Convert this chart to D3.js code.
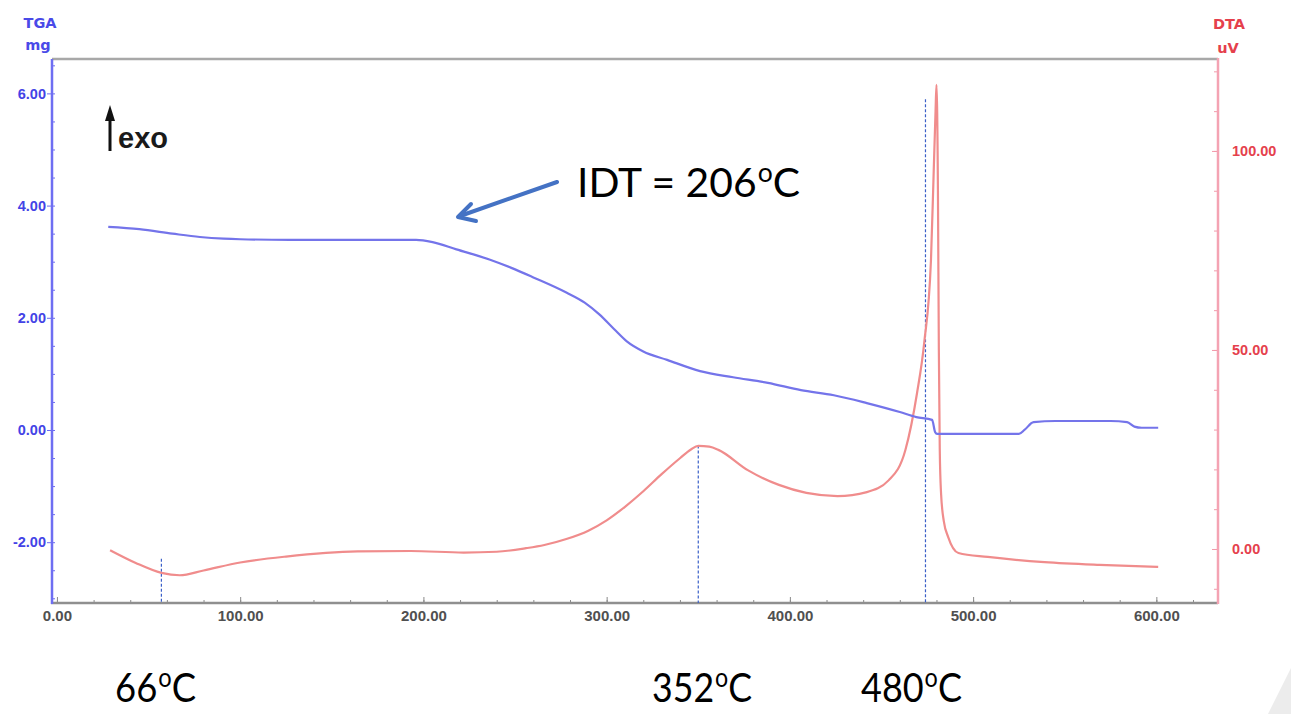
<!DOCTYPE html>
<html><head><meta charset="utf-8">
<script src="https://cdn.jsdelivr.net/npm/d3@7"></script>
<style>html,body{margin:0;padding:0;background:#fff;overflow:hidden}</style>
</head><body>
<script>
// ---- data ----
const tgaTemp = [28,45,63,78,91,100,127,196,205,218,236,248,260,278,288,296,304,311,320,333,351,369,388,406,424,442,460,469,477.6,479.3,480.3,487,525,528,533,545,575,584,588,592,601];
const tgaMass = [3.62,3.58,3.50,3.44,3.41,3.40,3.39,3.39,3.35,3.22,3.04,2.89,2.72,2.45,2.27,2.06,1.80,1.58,1.40,1.25,1.05,0.94,0.84,0.71,0.62,0.48,0.32,0.23,0.18,-0.04,-0.07,-0.07,-0.07,0.0,0.14,0.16,0.16,0.14,0.06,0.04,0.04];
const dtaTemp = [29,43,57,67,80,100,125,164,193,222,240,256,266,278,290,300,310,320,330,340,346,350,356,361,377,394,409,426,442,454,463,469.4,473.3,477,478.5,479.5,480,480.8,481.3,481.8,482.5,484,486.4,492,508,539,569,601];
const dtaSignal = [-0.3,-3.5,-6.0,-6.6,-5.4,-3.4,-1.9,-0.6,-0.5,-0.9,-0.7,0.2,1.0,2.5,4.6,7.2,10.6,14.5,18.8,22.8,25.0,25.9,25.7,24.9,19.8,16.1,14.1,13.3,14.3,17.3,24.8,39.2,51.8,72.6,95,110,116.6,90,50,25,14,7,3,-1.0,-2.0,-3.3,-4.0,-4.5];
const xTicks = [0,100,200,300,400,500,600];
const tgaTicks = [-2,0,2,4,6];
const dtaTicks = [0,50,100];
const markTemps = [57,350,474];          // dashed marker positions
const markTops = [-2.45, 26, 113];       // DTA value where each dashed line starts
const markLabels = ["66","352","480"];
const idtLabel = "IDT = 206";

// ---- layout ----
const W = 1291, H = 714;
const svg = d3.select("body").append("svg").attr("width",W).attr("height",H)
  .style("font-family","'DejaVu Sans', sans-serif");
svg.append("rect").attr("width",W).attr("height",H).attr("fill","#fff");

const x = d3.scaleLinear().domain([-2.7,633.1]).range([52,1217]);
const yL = d3.scaleLinear().domain([-3.084,6.613]).range([603,59]);
const yR = d3.scaleLinear().domain([-13.57,123.1]).range([603,59]);

// top border
svg.append("line").attr("x1",52).attr("x2",1218).attr("y1",59).attr("y2",59)
  .attr("stroke","#a8a8a8").attr("stroke-width",2.5);

// ---- axes ----
const fmt = d => d.toFixed(2);
function styleAxis(g, col){ g.select(".domain").remove(); g.selectAll("line").attr("stroke",col); }

// bottom axis
const gx = svg.append("g").attr("transform","translate(0,603)");
gx.append("g").call(d3.axisBottom(x).tickValues(d3.range(0,621,20)).tickSize(-3).tickFormat(""))
  .call(g=>styleAxis(g,"#8a8a8a"));
gx.append("g").call(d3.axisBottom(x).tickValues(xTicks).tickSize(-6).tickPadding(4).tickFormat(fmt))
  .call(g=>styleAxis(g,"#8a8a8a"))
  .call(g=>g.selectAll("text").attr("fill","#505050").attr("font-size",15).attr("font-weight","bold").attr("dy","0.9em"));
svg.append("line").attr("x1",51).attr("x2",1218).attr("y1",603).attr("y2",603).attr("stroke","#8f8f8f").attr("stroke-width",2.5);

// left axis
const gl = svg.append("g").attr("transform","translate(52,0)");
gl.append("g").call(d3.axisLeft(yL).tickValues(d3.range(-3,6.6,0.5)).tickSize(-3).tickFormat(""))
  .call(g=>styleAxis(g,"#6b6bf0"));
gl.append("g").call(d3.axisLeft(yL).tickValues(tgaTicks).tickSize(5).tickPadding(1).tickFormat(fmt))
  .call(g=>styleAxis(g,"#6b6bf0"))
  .call(g=>g.selectAll("text").attr("fill","#4343e6").attr("font-size",14.5).attr("font-weight","bold"));
svg.append("line").attr("x1",52).attr("x2",52).attr("y1",59).attr("y2",604).attr("stroke","#6e6ef2").attr("stroke-width",2.5);

// right axis
const gr = svg.append("g").attr("transform","translate(1218,0)");
gr.append("g").call(d3.axisRight(yR).tickValues(d3.range(-10,121,10)).tickSize(-4).tickFormat(""))
  .call(g=>styleAxis(g,"#f29aaa"));
gr.append("g").call(d3.axisRight(yR).tickValues(dtaTicks).tickSize(-6).tickPadding(14).tickFormat(fmt))
  .call(g=>styleAxis(g,"#f29aaa"))
  .call(g=>g.selectAll("text").attr("fill","#e5404c").attr("font-size",14.5).attr("font-weight","bold"));
svg.append("line").attr("x1",1218).attr("x2",1218).attr("y1",58).attr("y2",604).attr("stroke","#f4a3b3").attr("stroke-width",2.5);

// axis titles
const titles = [["TGA",40,28,"#4a4ae8"],["mg",38,50,"#4a4ae8"],["DTA",1229,29,"#e5404c"],["uV",1228,53,"#e5404c"]];
svg.selectAll("text.ttl").data(titles).join("text").attr("class","ttl")
  .attr("x",d=>d[1]).attr("y",d=>d[2]).attr("fill",d=>d[3]).attr("text-anchor","middle")
  .attr("font-size",14.5).attr("font-weight","bold").text(d=>d[0]);

// ---- dashed markers ----
svg.selectAll("line.mark").data(markTemps).join("line").attr("class","mark")
  .attr("x1",d=>x(d)).attr("x2",d=>x(d))
  .attr("y1",(d,i)=>yR(markTops[i])).attr("y2",603)
  .attr("stroke","#3a5fc8").attr("stroke-width",1.2).attr("stroke-dasharray","3,2");

// ---- curves ----
const tga = tgaTemp.map((t,i)=>[t,tgaMass[i]]);
const dta = dtaTemp.map((t,i)=>[t,dtaSignal[i]]);
svg.append("path").datum(dta).attr("fill","none").attr("stroke","#f08c8c").attr("stroke-width",2.2)
  .attr("stroke-linejoin","round")
  .attr("d",d3.line().x(d=>x(d[0])).y(d=>yR(d[1])).curve(d3.curveMonotoneX));
svg.append("path").datum(tga).attr("fill","none").attr("stroke","#7474ea").attr("stroke-width",2.2)
  .attr("stroke-linejoin","round")
  .attr("d",d3.line().x(d=>x(d[0])).y(d=>yL(d[1])).curve(d3.curveMonotoneX));

// ---- exo arrow ----
svg.append("line").attr("x1",110).attr("x2",110).attr("y1",116).attr("y2",151).attr("stroke","#111").attr("stroke-width",3);
svg.append("path").attr("d","M110,105 L115,121 L105,121 Z").attr("fill","#111");
svg.append("text").attr("x",118).attr("y",148).attr("font-family","'Liberation Sans', Arial, sans-serif")
  .attr("font-size",29).attr("font-weight","bold").attr("fill","#1a1a1a").text("exo");

// ---- IDT annotation ----
svg.append("line").attr("x1",557).attr("y1",182).attr("x2",460).attr("y2",216)
  .attr("stroke","#4472c4").attr("stroke-width",4).attr("stroke-linecap","round");
svg.append("path").attr("d","M471,204 L458,217 L476,221").attr("fill","none")
  .attr("stroke","#4472c4").attr("stroke-width",4).attr("stroke-linecap","round").attr("stroke-linejoin","round");

function degLabel(main, xs, base, width){
  const g = svg.append("g");
  const font = "Lato, 'Open Sans', sans-serif";
  const t1 = g.append("text").attr("x",0).attr("y",0).attr("font-family",font).attr("font-size",40).text(main);
  const w1 = t1.node().getComputedTextLength();
  const t2 = g.append("text").attr("x",w1+1).attr("y",-15).attr("font-family",font).attr("font-size",26).text("o");
  const w2 = t2.node().getComputedTextLength();
  const t3 = g.append("text").attr("x",w1+w2+1).attr("y",0).attr("font-family",font).attr("font-size",40).text("C");
  const total = w1+w2+1+t3.node().getComputedTextLength();
  g.attr("transform",`translate(${xs},${base}) scale(${width/total},1)`);
}
degLabel(idtLabel, 577, 197, 223);

// bottom temperature labels
const labX = [115,652,861], labW = [81,100,101];
markLabels.forEach((m,i)=>degLabel(m, labX[i], 702, labW[i]));

// slide corner decoration
svg.append("path").attr("d","M1291,668 L1268,714 L1291,714 Z").attr("fill","#ececec");
</script>
</body></html>
